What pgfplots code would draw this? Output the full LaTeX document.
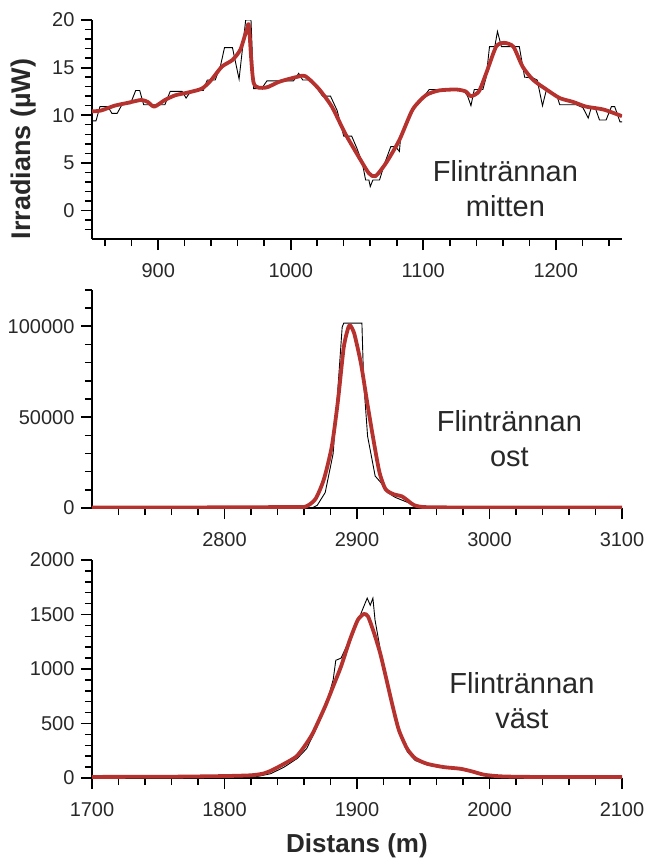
\documentclass[border=0pt]{standalone}
\usepackage{pgfplots}
\pgfplotsset{compat=1.18}
\usepackage{fontspec}
\setmainfont{Liberation Sans}
\definecolor{myred}{RGB}{182,50,46}
\definecolor{txt}{RGB}{40,40,40}
\pgfplotsset{
  myaxis/.style={
    scale only axis, width=530pt,
    axis x line*=bottom, axis y line*=left,
    axis line style={line width=1.5pt, black},
    tick align=outside,
    major tick length=11pt, minor tick length=7pt,
    major tick style={draw=black, line width=1.8pt},
    minor tick style={draw=black, line width=1.5pt},
    tick label style={font=\fontsize{20}{24}\selectfont, text=txt},
    xticklabel style={yshift=-10pt},
    yticklabel style={xshift=-3pt},
    /pgf/number format/fixed,
    /pgf/number format/assume math mode=true,
    /pgf/number format/1000 sep={},
    scaled ticks=false,
  },
  blk/.style={black, line width=0.9pt},
  rd/.style={myred, line width=3.8pt, line join=round, smooth, tension=0.4},
}
\begin{document}
\begin{tikzpicture}
\path (-92pt,20pt) rectangle (555pt,-843pt);
% ---------- top panel ----------
\begin{axis}[myaxis, height=219pt, at={(0pt,0pt)}, anchor=north west,
  xmin=850, xmax=1250, ymin=-3, ymax=20,
  xtick={900,1000,1100,1200}, minor xtick={860,880,...,1240},
  ytick={0,5,10,15,20}, minor ytick={-2,-1,...,19},
  ylabel={Irradians (µW)},
  ylabel style={font=\fontsize{27}{30}\selectfont\bfseries, text=txt, at={(axis description cs:-0.13,0.41)}, anchor=center},
]
\addplot[blk] coordinates {
(850,9.4)(853,9.4)(856,10.9)(862,10.9)(865,10.2)(869,10.2)(873,11.2)(879,11.2)(883,12.6)(886,12.6)
(889,11.1)(905,11.1)(909,12.5)(918,12.5)(921,11.8)(925,12.6)(934,12.6)(937,13.7)(943,13.7)(947,15.2)
(950,17.1)(956,17.1)(961,13.8)(966,20)(970,20)(972,12.8)(978,12.8)(982,13.6)(1002,13.6)(1006,14.4)
(1009,13.7)(1016,13.7)(1021,12.6)(1024,12)(1030,12)(1035,10.5)(1040,7.8)(1046,7.8)(1050,6.5)(1054,5)
(1056.5,3.2)(1059,3.2)(1060,2.5)(1062,3.2)(1067,3.2)(1071,5)(1075.5,6.7)(1079,6.7)(1082,6.2)(1083,7.8)
(1092,10.6)(1097,11.3)(1104.5,12.7)(1130,12.7)(1133.5,12)(1136,11)(1138.5,12.7)(1145,12.7)(1147.5,14)(1150,17.2)
(1154,17.2)(1156,18.8)(1159,17.2)(1172.5,17.2)(1176.5,14)(1183,13.9)(1186,13.7)(1190,11)(1193,12.7)(1201,12)
(1203,11.1)(1215.5,11.1)(1220.5,10.8)(1224.5,9.7)(1227,10.9)(1229.5,10.9)(1233,9.5)(1238,9.5)(1242,10.9)(1244.5,10.9)
(1248.5,9.3)(1250,9.3)
};
\addplot[rd] coordinates {
(850,10.4)(857,10.5)(867,11.0)(877,11.3)(887,11.6)(892,11.4)(897,10.9)(905,11.6)(913,12.1)(923,12.4)
(933,12.8)(940,13.7)(948,15.1)(956,15.8)(962,16.9)(967,19.1)(968.5,19.3)(972,13.4)(981,12.9)(991,13.5)
(1004,14.0)(1011,14.1)(1021,12.8)(1031,10.9)(1041,8.1)(1051,5.7)(1059,3.9)(1064,3.6)(1072,5.0)(1082,7.4)
(1092,10.6)(1102,12.1)(1112,12.6)(1125,12.7)(1132,12.5)(1136,12.0)(1142,12.5)(1147.5,14.4)(1155,17.2)(1161,17.6)
(1168,17.2)(1175,15.1)(1183,13.7)(1193,12.7)(1203,11.8)(1213,11.4)(1223,10.9)(1236,10.6)(1250,9.9)
};
\node[align=center, font=\fontsize{29}{35}\selectfont, text=txt] at (axis cs:1162,2.3) {Flintrännan\\mitten};
\end{axis}
% ---------- middle panel ----------
\begin{axis}[myaxis, height=218pt, at={(0pt,-270pt)}, anchor=north west,
  xmin=2700, xmax=3100, ymin=0, ymax=120000,
  xtick={2800,2900,3000,3100}, minor xtick={2720,2740,...,3080},
  ytick={0,50000,100000}, minor ytick={10000,20000,...,120000},
]
\addplot[blk] coordinates {
(2700,0)(2866,0)(2870,1500)(2876,8500)(2882,30000)(2886,70000)(2888.8,99500)(2890,101800)(2903.7,101800)(2905,70000)
(2908,39500)(2913.7,17600)(2918,14000)(2923,8500)(2929,5800)(2938.5,3000)(2945,1300)(2951,0)(3100,0)
};
\addplot[rd] coordinates {
(2700,300)(2760,300)(2820,400)(2850,600)(2861,700)(2868.6,4900)(2875,15800)(2881,34000)(2885.7,59500)(2890,88500)
(2893.5,99500)(2895,100400)(2898,95800)(2903,79500)(2907.8,57600)(2912.4,37600)(2917,19500)(2921.5,10400)(2927.6,7600)
(2933.9,6400)(2938.5,4000)(2943,1600)(2951,500)(2980,300)(3040,300)(3100,300)
};
\node[align=center, font=\fontsize{29}{35}\selectfont, text=txt] at (axis cs:3015,38000) {Flintrännan\\ost};
\end{axis}
% ---------- bottom panel ----------
\begin{axis}[myaxis, height=218pt, at={(0pt,-540pt)}, anchor=north west,
  xmin=1700, xmax=2100, ymin=0, ymax=2000,
  xtick={1700,1800,1900,2000,2100}, minor xtick={1720,1740,...,2080},
  ytick={0,500,...,2000}, minor ytick={100,200,...,1900},
  xlabel={Distans (m)},
  xlabel style={font=\fontsize{26}{30}\selectfont\bfseries, text=txt, at={(axis description cs:0.5,-0.31)}, anchor=center},
]
\addplot[blk] coordinates {
(1700,0)(1820,2)(1835,40)(1845,100)(1855,180)(1862,270)(1868,420)(1876,640)(1882,900)(1884,1080)
(1888,1100)(1894,1260)(1900,1420)(1905,1570)(1907.7,1650)(1910,1585)(1912,1650)(1913.6,1450)(1918,1150)(1923,880)
(1928,620)(1933,390)(1938,240)(1944,160)(1953,120)(1965,95)(1978,80)(1988,55)(1998,25)(2010,8)(2030,0)(2100,0)
};
\addplot[rd] coordinates {
(1700,10)(1760,12)(1800,18)(1820,25)(1829,40)(1835.6,70)(1845,130)(1854,195)(1860,285)(1866.6,410)
(1875.9,655)(1882,840)(1888,1025)(1894.4,1260)(1900.6,1450)(1905.3,1505)(1908.4,1480)(1913,1325)(1917.6,1140)(1922.3,900)
(1927,655)(1931.6,440)(1937.8,270)(1944,180)(1953,130)(1965.6,100)(1978,85)(1987,60)(1996,30)(2009,15)(2033,10)(2100,10)
};
\node[align=center, font=\fontsize{29}{35}\selectfont, text=txt] at (axis cs:2024.5,710) {Flintrännan\\väst};
\end{axis}
\end{tikzpicture}
\end{document}
